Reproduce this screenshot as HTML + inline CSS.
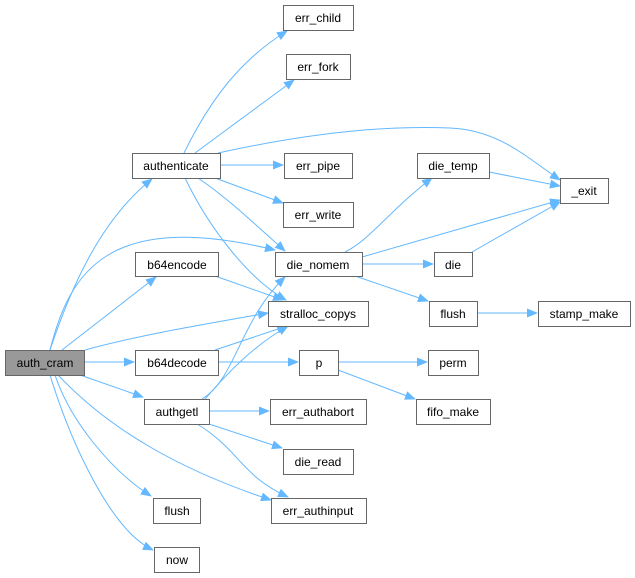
<!DOCTYPE html>
<html><head><meta charset="utf-8"><style>
html,body{margin:0;padding:0;background:#fff;}
svg{display:block;}
text{font-family:"Liberation Sans",sans-serif;font-size:12px;fill:#000;text-anchor:middle;}
.n{fill:#fff;stroke:#666;stroke-width:1;}
.e{fill:none;stroke:#63b8ff;stroke-width:1;marker-end:url(#a);}
</style></head><body>
<svg width="635" height="578" viewBox="0 0 635 578">
<defs><marker id="a" markerWidth="11" markerHeight="9" refX="10" refY="4.5" orient="auto" markerUnits="userSpaceOnUse"><path d="M0,0 L11,4.5 L0,9 Z" fill="#63b8ff"/></marker></defs>
<!-- edges -->
<path class="e" d="M50,350 C70,290 100,220 152,179"/>
<path class="e" d="M50,350 C70,270 110,210 275,250"/>
<path class="e" d="M62,350 L156,277"/>
<path class="e" d="M85,350 C140,335 200,325 268,313"/>
<path class="e" d="M84,362 L134,362"/>
<path class="e" d="M80,375 L143,397"/>
<path class="e" d="M55,375 C70,420 110,470 151,496"/>
<path class="e" d="M58,375 C110,430 180,470 271,500"/>
<path class="e" d="M50,375 C70,440 110,530 153,550"/>
<path class="e" d="M184,153 C210,100 240,60 287,31"/>
<path class="e" d="M195,153 L294,80"/>
<path class="e" d="M218,153 C300,135 380,125 450,128 C500,130 530,160 560,180"/>
<path class="e" d="M220,165 L283,165"/>
<path class="e" d="M215,178 L283,203"/>
<path class="e" d="M198,178 C230,200 250,220 285,251"/>
<path class="e" d="M185,178 C210,230 250,280 286,300"/>
<path class="e" d="M215,276 L283,300"/>
<path class="e" d="M215,350 L287,326"/>
<path class="e" d="M218,362 L298,362"/>
<path class="e" d="M202,399 C235,380 240,320 285,277"/>
<path class="e" d="M205,399 C230,370 255,345 288,326"/>
<path class="e" d="M209,411 L269,411"/>
<path class="e" d="M209,424 L282,448"/>
<path class="e" d="M197,424 C240,450 240,475 288,497"/>
<path class="e" d="M345,252 C370,240 390,210 432,178"/>
<path class="e" d="M362,257 L560,200"/>
<path class="e" d="M362,264 L433,264"/>
<path class="e" d="M355,276 L428,301"/>
<path class="e" d="M489,172 L560,186"/>
<path class="e" d="M472,252 L560,202"/>
<path class="e" d="M477,313 L537,313"/>
<path class="e" d="M338,362 L427,362"/>
<path class="e" d="M338,370 L415,399"/>
<!-- nodes -->
<rect x="5.5" y="350.5" width="79" height="25" style="fill:#999;stroke:#666"/><text x="45" y="367">auth_cram</text>
<rect class="n" x="132.5" y="153.5" width="88" height="25"/><text x="176" y="170">authenticate</text>
<rect class="n" x="135.5" y="252.5" width="83" height="24"/><text x="177" y="269">b64encode</text>
<rect class="n" x="135.5" y="350.5" width="83" height="25"/><text x="177" y="367">b64decode</text>
<rect class="n" x="144.5" y="399.5" width="65" height="25"/><text x="177" y="416">authgetl</text>
<rect class="n" x="153.5" y="498.5" width="47" height="25"/><text x="177" y="515">flush</text>
<rect class="n" x="154.5" y="547.5" width="45" height="25"/><text x="177" y="564">now</text>
<rect class="n" x="283.5" y="5.5" width="70" height="25"/><text x="318" y="22">err_child</text>
<rect class="n" x="286.5" y="54.5" width="64" height="25"/><text x="318" y="71">err_fork</text>
<rect class="n" x="284.5" y="153.5" width="68" height="25"/><text x="318" y="170">err_pipe</text>
<rect class="n" x="283.5" y="202.5" width="70" height="25"/><text x="318" y="219">err_write</text>
<rect class="n" x="275.5" y="252.5" width="87" height="24"/><text x="318" y="269">die_nomem</text>
<rect class="n" x="268.5" y="301.5" width="100" height="25"/><text x="318" y="318">stralloc_copys</text>
<rect class="n" x="299.5" y="350.5" width="39" height="25"/><text x="319" y="367">p</text>
<rect class="n" x="270.5" y="399.5" width="96" height="25"/><text x="318" y="416">err_authabort</text>
<rect class="n" x="283.5" y="449.5" width="70" height="25"/><text x="318" y="466">die_read</text>
<rect class="n" x="271.5" y="498.5" width="95" height="25"/><text x="318" y="515">err_authinput</text>
<rect class="n" x="417.5" y="153.5" width="72" height="25"/><text x="453" y="170">die_temp</text>
<rect class="n" x="434.5" y="252.5" width="38" height="24"/><text x="453" y="269">die</text>
<rect class="n" x="429.5" y="301.5" width="48" height="25"/><text x="453" y="318">flush</text>
<rect class="n" x="428.5" y="350.5" width="50" height="25"/><text x="453" y="367">perm</text>
<rect class="n" x="416.5" y="399.5" width="74" height="25"/><text x="453" y="416">fifo_make</text>
<rect class="n" x="560.5" y="178.5" width="48" height="25"/><text x="584" y="195">_exit</text>
<rect class="n" x="538.5" y="301.5" width="92" height="25"/><text x="584" y="318">stamp_make</text>
</svg>
</body></html>
